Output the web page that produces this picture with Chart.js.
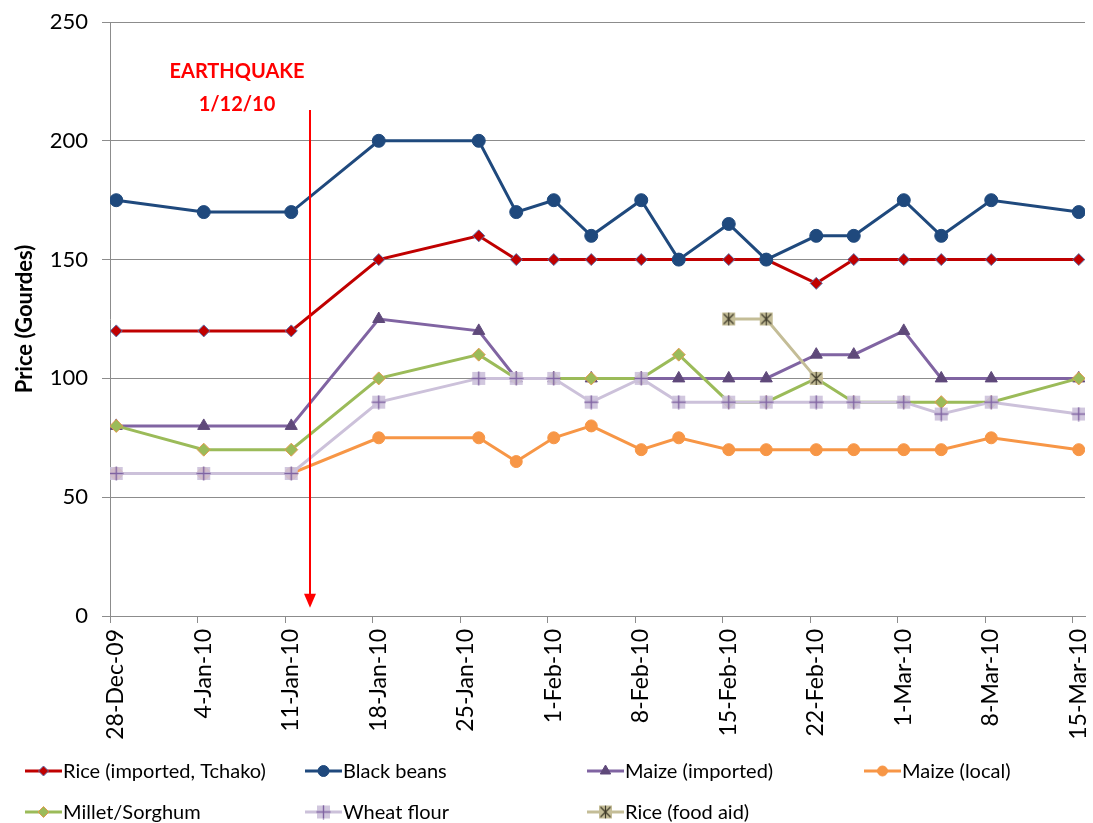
<!DOCTYPE html>
<html>
<head>
<meta charset="utf-8">
<title>Haiti food prices</title>
<script src="https://cdn.jsdelivr.net/npm/chart.js@4.4.1/dist/chart.umd.min.js"></script>
<style>
  html, body { margin: 0; padding: 0; background: #fff; }
  #wrap { position: relative; width: 1093px; height: 823px; }
</style>
</head>
<body>
<div id="wrap"><canvas id="priceChart"></canvas></div>
<script>
// ---- data ----
const startDate = '2009-12-28';
const obsDates = ['2009-12-28', '2010-01-04', '2010-01-11', '2010-01-18', '2010-01-26', '2010-01-29',
  '2010-02-01', '2010-02-04', '2010-02-08', '2010-02-11', '2010-02-15', '2010-02-18',
  '2010-02-22', '2010-02-25', '2010-03-01', '2010-03-04', '2010-03-08', '2010-03-15'];
const tickDates = ['2009-12-28', '2010-01-04', '2010-01-11', '2010-01-18', '2010-01-25', '2010-02-01',
  '2010-02-08', '2010-02-15', '2010-02-22', '2010-03-01', '2010-03-08', '2010-03-15'];
const tickLabels = ['28-Dec-09', '4-Jan-10', '11-Jan-10', '18-Jan-10', '25-Jan-10', '1-Feb-10',
  '8-Feb-10', '15-Feb-10', '22-Feb-10', '1-Mar-10', '8-Mar-10', '15-Mar-10'];
const yTicks = [0, 50, 100, 150, 200, 250];

const riceImported = [120, 120, 120, 150, 160, 150, 150, 150, 150, 150, 150, 150, 140, 150, 150, 150, 150, 150];
const blackBeans   = [175, 170, 170, 200, 200, 170, 175, 160, 175, 150, 165, 150, 160, 160, 175, 160, 175, 170];
const maizeImported = [80, 80, 80, 125, 120, 100, 100, 100, 100, 100, 100, 100, 110, 110, 120, 100, 100, 100];
const maizeLocal   = [60, 60, 60, 75, 75, 65, 75, 80, 70, 75, 70, 70, 70, 70, 70, 70, 75, 70];
const milletSorghum = [80, 70, 70, 100, 110, 100, 100, 100, 100, 110, 90, 90, 100, 90, 90, 90, 90, 100];
const wheatFlour   = [60, 60, 60, 90, 100, 100, 100, 90, 100, 90, 90, 90, 90, 90, 90, 85, 90, 85];
const riceFoodAid  = [null, null, null, null, null, null, null, null, null, null, 125, 125, 100, null, null, null, null, null];

const quakeDate = '2010-01-12';
const quakeText = ['EARTHQUAKE', '1/12/10'];

const FONT = "Lato, 'Open Sans', sans-serif";

function dayOf(d) {
  return (Date.parse(d) - Date.parse(startDate)) / 86400000;
}

// points sit in the middle of their day, like Excel's date axis
function toPoints(values) {
  const pts = [];
  values.forEach((v, i) => {
    if (v !== null) pts.push({ x: dayOf(obsDates[i]) + 0.5, y: v });
  });
  return pts;
}

// ---- custom marker images ----
function makeMarker(draw) {
  const c = document.createElement('canvas');
  c.width = 15; c.height = 15;
  draw(c.getContext('2d'));
  return c;
}

const wheatMarker = makeMarker(ctx => {
  ctx.fillStyle = 'rgba(204,193,218,0.9)';
  ctx.fillRect(1, 1, 13, 13);
  ctx.strokeStyle = '#8064A2';
  ctx.lineWidth = 1.4;
  ctx.beginPath();
  ctx.moveTo(7.5, 0.5); ctx.lineTo(7.5, 14.5);
  ctx.moveTo(0.5, 7.5); ctx.lineTo(14.5, 7.5);
  ctx.stroke();
});

const aidMarker = makeMarker(ctx => {
  ctx.fillStyle = '#C4BD97';
  ctx.fillRect(1, 1, 13, 13);
  ctx.strokeStyle = '#3F3B2A';
  ctx.lineWidth = 1.2;
  ctx.beginPath();
  ctx.moveTo(2.5, 2.5); ctx.lineTo(12.5, 12.5);
  ctx.moveTo(12.5, 2.5); ctx.lineTo(2.5, 12.5);
  ctx.moveTo(7.5, 1); ctx.lineTo(7.5, 14);
  ctx.stroke();
});

const series = [
  { label: 'Rice (imported, Tchako)', data: riceImported, color: '#C00000', fill: '#C00000', border: '#5A6FA8', style: 'rectRot', radius: 6 },
  { label: 'Black beans', data: blackBeans, color: '#1F497D', fill: '#1F497D', border: '#1F497D', style: 'circle', radius: 6.5 },
  { label: 'Maize (imported)', data: maizeImported, color: '#8064A2', fill: '#5F497A', border: '#5F497A', style: 'triangle', radius: 7 },
  { label: 'Maize (local)', data: maizeLocal, color: '#F79646', fill: '#F79646', border: '#F79646', style: 'circle', radius: 6 },
  { label: 'Millet/Sorghum', data: milletSorghum, color: '#9BBB59', fill: '#9BBB59', border: '#E39A4F', style: 'rectRot', radius: 6.5 },
  { label: 'Wheat flour', data: wheatFlour, color: '#CCC1DA', fill: '#CCC1DA', border: '#8064A2', style: wheatMarker, radius: 7 },
  { label: 'Rice (food aid)', data: riceFoodAid, color: '#C4BD97', fill: '#C4BD97', border: '#3F3B2A', style: aidMarker, radius: 7 }
];

// ---- earthquake arrow + text ----
const quakePlugin = {
  id: 'quake',
  afterDatasetsDraw(chart) {
    const { ctx, scales: { x, y } } = chart;
    const px = Math.round(x.getPixelForValue(dayOf(quakeDate) + 1));
    const top = y.getPixelForValue(213);
    const tip = y.getPixelForValue(3.5);
    ctx.save();
    ctx.strokeStyle = '#FF0000';
    ctx.fillStyle = '#FF0000';
    ctx.lineWidth = 2;
    ctx.beginPath();
    ctx.moveTo(px, top);
    ctx.lineTo(px, tip - 12);
    ctx.stroke();
    ctx.beginPath();
    ctx.moveTo(px - 6, tip - 14);
    ctx.lineTo(px + 6, tip - 14);
    ctx.lineTo(px, tip);
    ctx.closePath();
    ctx.fill();

    ctx.font = 'bold 20px ' + FONT;
    ctx.textAlign = 'center';
    ctx.textBaseline = 'middle';
    ctx.fillText(quakeText[0], px - 73, top - 38);
    ctx.fillText(quakeText[1], px - 73, top - 5);
    ctx.restore();
  }
};

// ---- legend drawn in fixed columns like the original ----
const legendPlugin = {
  id: 'gridLegend',
  afterDraw(chart) {
    const { ctx } = chart;
    const cols = [25, 305, 587, 864];
    const rows = [771, 812];
    ctx.save();
    ctx.font = '20px ' + FONT;
    ctx.textBaseline = 'middle';
    ctx.textAlign = 'left';
    series.forEach((s, i) => {
      const x0 = cols[i % 4];
      const yy = rows[Math.floor(i / 4)];
      ctx.strokeStyle = s.color;
      ctx.lineWidth = 3;
      ctx.beginPath();
      ctx.moveTo(x0, yy);
      ctx.lineTo(x0 + 37, yy);
      ctx.stroke();
      ctx.fillStyle = s.fill;
      ctx.strokeStyle = s.border;
      ctx.lineWidth = 1;
      Chart.helpers.drawPoint(ctx, { pointStyle: s.style, radius: s.radius - 1, rotation: 0, borderWidth: 1 }, x0 + 18.5, yy);
      ctx.fillStyle = '#000';
      ctx.fillText(s.label, x0 + 38, yy + 1);
    });
    ctx.restore();
  }
};

new Chart(document.getElementById('priceChart'), {
  type: 'line',
  data: {
    datasets: series.map((s, i) => ({
      label: s.label,
      data: toPoints(s.data),
      borderColor: s.color,
      backgroundColor: s.fill,
      pointBackgroundColor: s.fill,
      pointBorderColor: s.border,
      pointBorderWidth: 1,
      pointStyle: s.style,
      pointRadius: s.radius,
      borderWidth: 3,
      tension: 0,
      fill: false,
      order: series.length - i
    }))
  },
  options: {
    responsive: true,
    maintainAspectRatio: false,
    animation: false,
    layout: { padding: { left: 0, right: 8, top: 22, bottom: 73 } },
    plugins: {
      legend: { display: false },
      tooltip: { enabled: false }
    },
    scales: {
      x: {
        type: 'linear',
        min: 0,
        max: dayOf(obsDates[obsDates.length - 1]) + 1,
        afterBuildTicks: axis => { axis.ticks = tickDates.map(d => ({ value: dayOf(d) })); },
        afterFit: axis => {
          axis.height = 134;
          axis.paddingLeft = 0;
          axis.paddingRight = 0;
        },
        ticks: {
          autoSkip: false,
          minRotation: 90,
          maxRotation: 90,
          labelOffset: 6,
          padding: 6,
          color: '#000',
          font: { family: FONT, size: 23 },
          callback: (v, i) => tickLabels[i]
        },
        grid: { drawOnChartArea: false, color: '#8C8C8C', tickLength: 7 },
        border: { color: '#8C8C8C', width: 1 }
      },
      y: {
        min: 0,
        max: 250,
        afterBuildTicks: axis => { axis.ticks = yTicks.map(v => ({ value: v })); },
        afterFit: axis => {
          axis.width = 110;
          axis.paddingTop = 0;
          axis.paddingBottom = 0;
        },
        ticks: {
          padding: 14,
          color: '#000',
          font: { family: FONT, size: 22 }
        },
        title: {
          display: true,
          text: 'Price (Gourdes)',
          color: '#000',
          padding: { top: 12, bottom: 14 },
          font: { family: FONT, size: 22, weight: 'bold' }
        },
        grid: { color: '#8C8C8C', lineWidth: 1, tickLength: 8 },
        border: { color: '#8C8C8C', width: 1 }
      }
    }
  },
  plugins: [quakePlugin, legendPlugin]
});
</script>
</body>
</html>
